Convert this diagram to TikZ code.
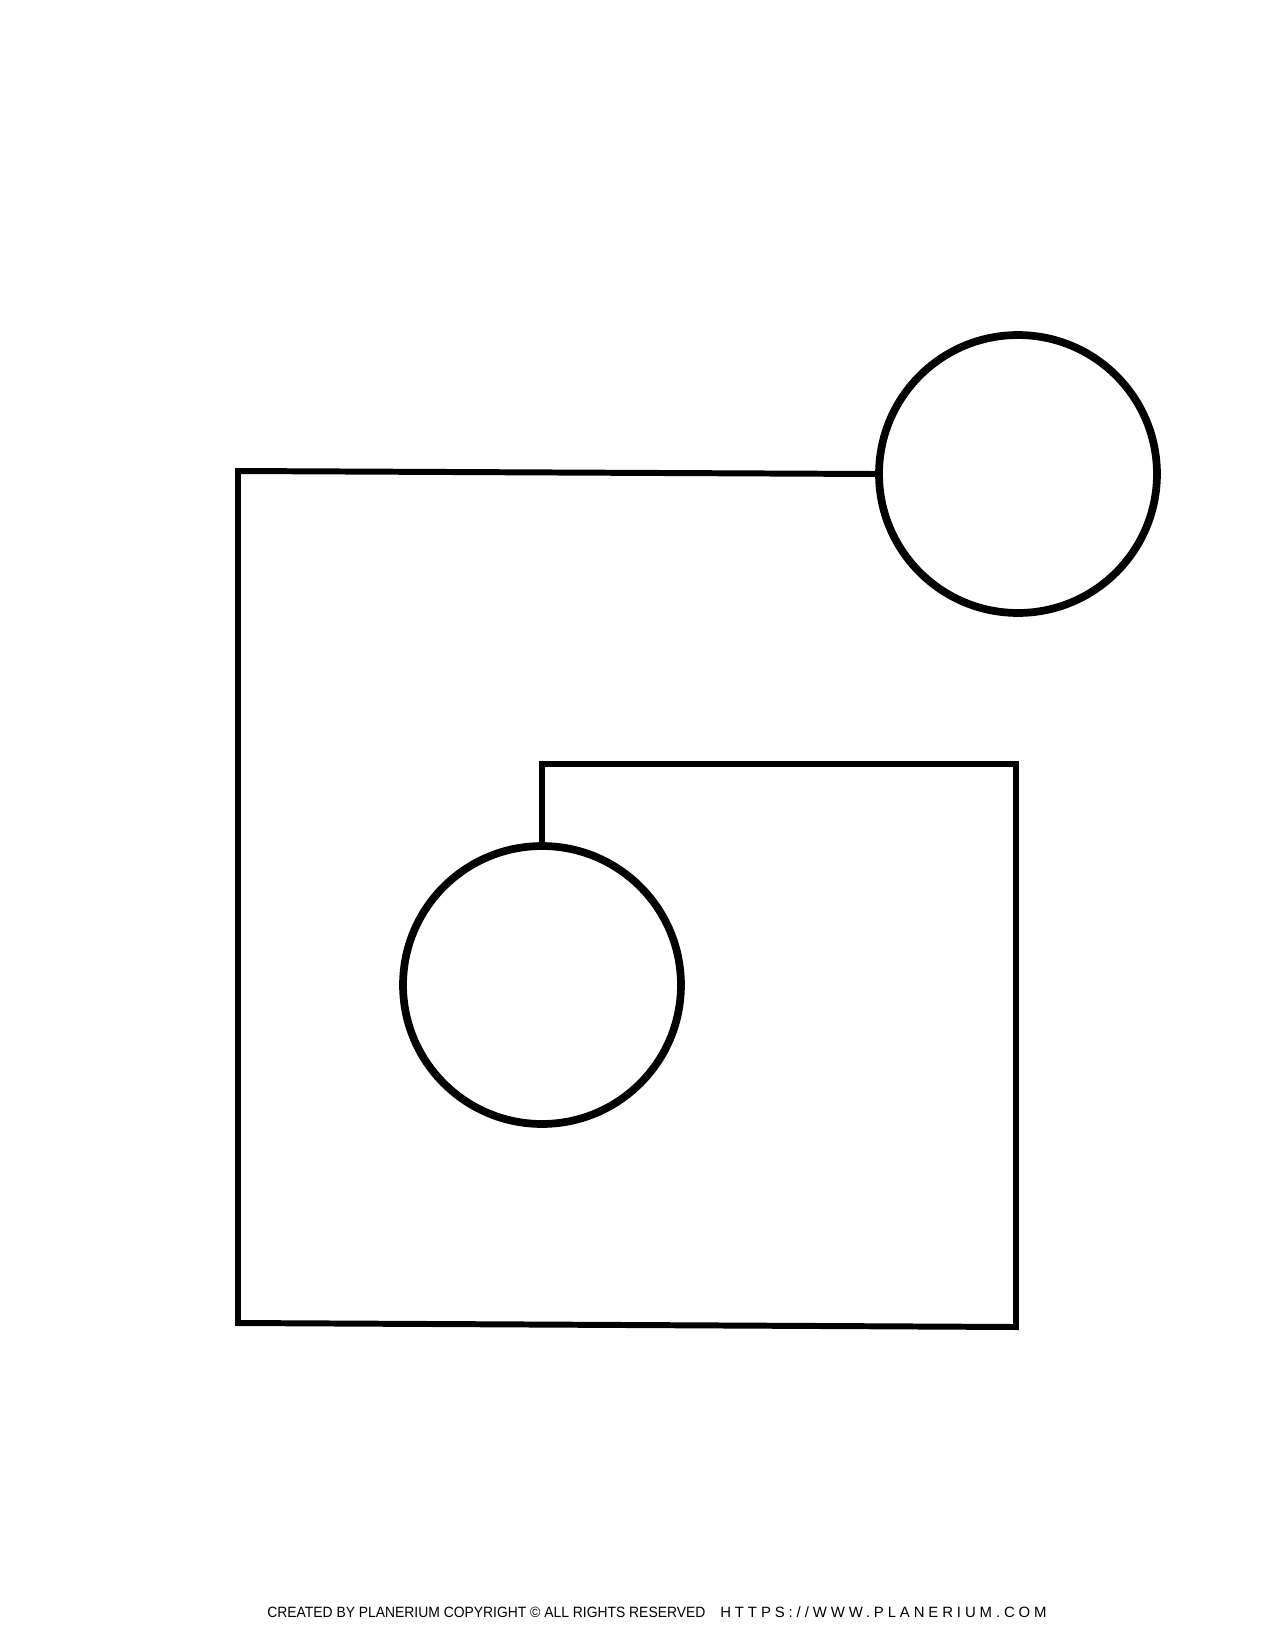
\documentclass[tikz,border=0pt]{standalone}
\usepackage{fontspec}
\setsansfont{Liberation Sans}
\usetikzlibrary{positioning}
\begin{document}
\begin{tikzpicture}[x=0.02cm,y=-0.02cm,
    ring/.style={draw,circle,line width=4.4pt,inner sep=0pt,minimum size=5.56cm},
    wire/.style={line width=3.4pt,line join=miter},
    footer/.style={inner sep=0pt,font=\sffamily\fontsize{8.5}{9}\selectfont}]
                \fill[white] (0,0) rectangle (1275,1650);
                \useasboundingbox (0,0) rectangle (1275,1650);

                %2 cerchi
                \node[ring] (top) at (1018,474) {};
                \node[ring] (low) at (542,985) {};

                %angoli del filo
                \coordinate (a) at (238,471);
                \coordinate (b) at (238,1323);
                \coordinate (c) at (1016,1327);
                \coordinate (d) at (1016,764);
                \coordinate (e) at (542,764);

                \draw[wire] (top.west) -- (a) -- (b) -- (c) -- (d) -- (e) -- (low.north);

                \node[footer,anchor=west] (credit) at (267,1612) {\scalebox{0.93}[1]{CREATED BY PLANERIUM COPYRIGHT \textcopyright{} ALL RIGHTS RESERVED}};
                \node[footer,anchor=east] (site) at (1047,1612) {\addfontfeature{LetterSpace=26}HTTPS://WWW.PLANERIUM.COM};

            \end{tikzpicture}
\end{document}
